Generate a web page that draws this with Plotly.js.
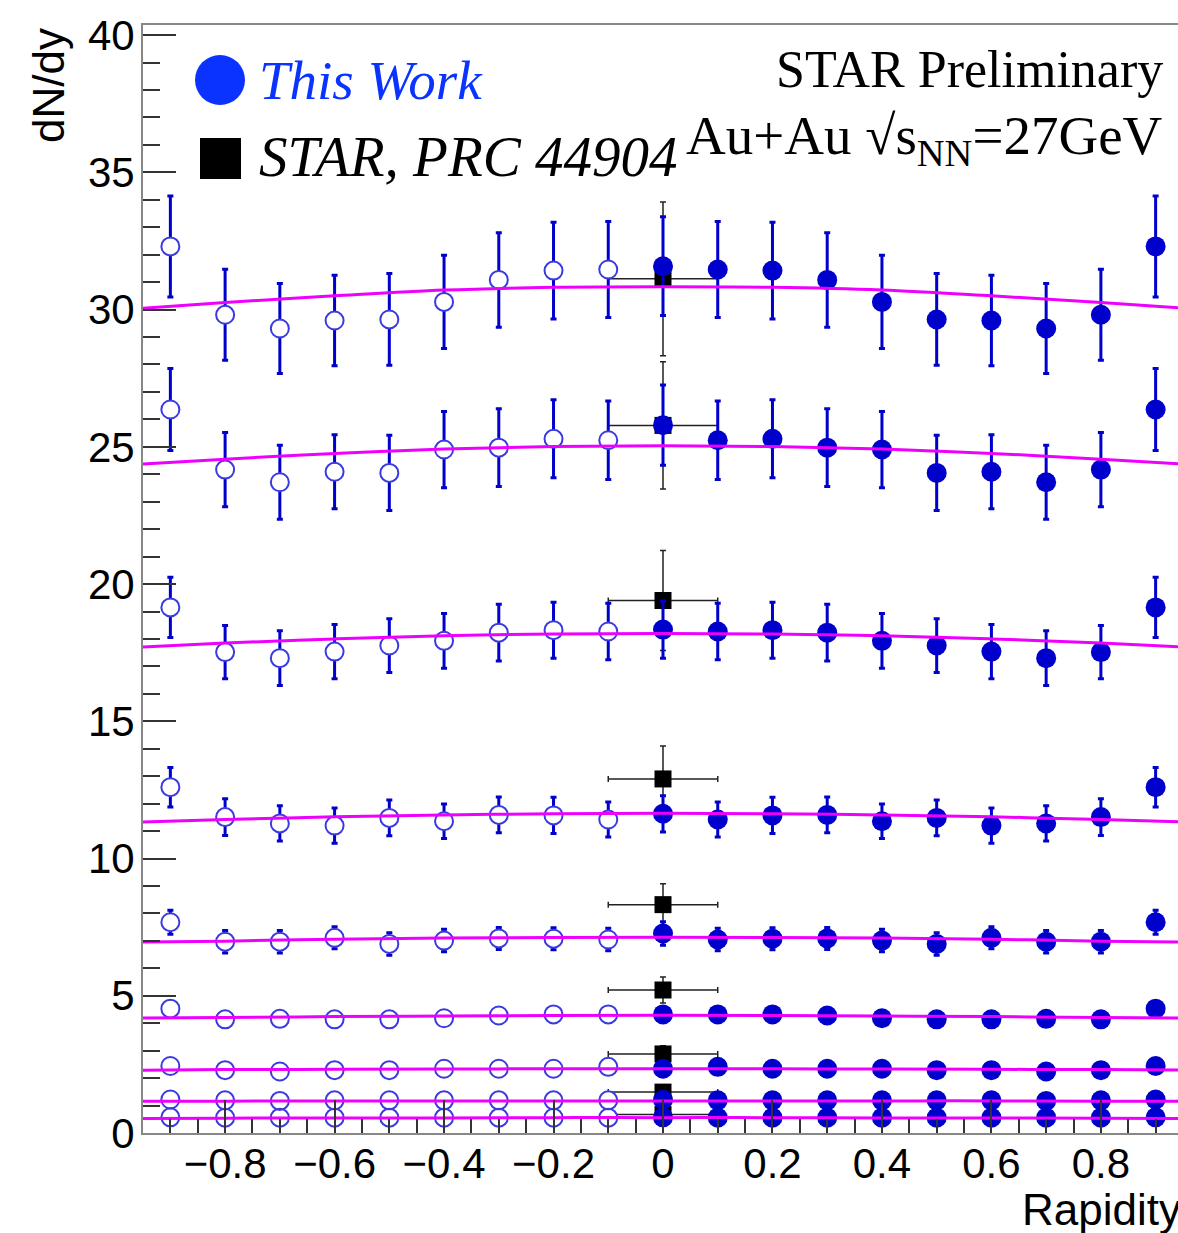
<!DOCTYPE html>
<html><head><meta charset="utf-8">
<script src="https://cdn.plot.ly/plotly-3.0.1.min.js"></script>
<style>html,body{margin:0;padding:0;overflow:hidden;background:#fff}</style>
</head><body><div id="chart"></div>
<script>
// ---------- data ----------
const rapidityPos = [0, 0.1, 0.2, 0.3, 0.4, 0.5, 0.6, 0.7, 0.8, 0.9];
const rapidityNeg = [-0.9, -0.8, -0.7, -0.6, -0.5, -0.4, -0.3, -0.2, -0.1];

const s1Pos    = [31.58, 31.46, 31.42, 31.08, 30.28, 29.64, 29.60, 29.31, 29.81, 32.30];
const s1PosErr = [1.80, 1.75, 1.76, 1.72, 1.70, 1.67, 1.65, 1.64, 1.66, 1.84];
const s1Neg    = [32.30, 29.81, 29.31, 29.60, 29.64, 30.28, 31.08, 31.42, 31.46];
const s1NegErr = [1.84, 1.66, 1.64, 1.65, 1.67, 1.70, 1.72, 1.76, 1.75];

const s2Pos    = [25.79, 25.24, 25.29, 24.97, 24.90, 24.05, 24.09, 23.71, 24.17, 26.36];
const s2PosErr = [1.46, 1.43, 1.42, 1.42, 1.39, 1.37, 1.35, 1.35, 1.35, 1.49];
const s2Neg    = [26.36, 24.17, 23.71, 24.09, 24.05, 24.90, 24.97, 25.29, 25.24];
const s2NegErr = [1.49, 1.35, 1.35, 1.35, 1.37, 1.39, 1.42, 1.42, 1.43];

const s3Pos    = [18.34, 18.27, 18.32, 18.23, 17.93, 17.76, 17.54, 17.30, 17.52, 19.15];
const s3PosErr = [1.04, 1.03, 1.02, 1.03, 1.00, 0.98, 0.99, 1.00, 0.97, 1.10];
const s3Neg    = [19.15, 17.52, 17.30, 17.54, 17.76, 17.93, 18.23, 18.32, 18.27];
const s3NegErr = [1.10, 0.97, 1.00, 0.99, 0.98, 1.00, 1.03, 1.02, 1.03];

const s4Pos    = [11.63, 11.42, 11.57, 11.59, 11.36, 11.48, 11.20, 11.28, 11.51, 12.60];
const s4PosErr = [0.66, 0.64, 0.66, 0.65, 0.63, 0.65, 0.64, 0.64, 0.67, 0.72];
const s4Neg    = [12.60, 11.51, 11.28, 11.20, 11.48, 11.36, 11.59, 11.57, 11.42];
const s4NegErr = [0.72, 0.67, 0.64, 0.64, 0.65, 0.63, 0.65, 0.66, 0.64];

const s5Pos    = [7.27, 7.05, 7.08, 7.09, 7.01, 6.89, 7.11, 6.97, 6.97, 7.68];
const s5PosErr = [0.43, 0.41, 0.40, 0.40, 0.41, 0.41, 0.40, 0.41, 0.41, 0.44];
const s5Neg    = [7.68, 6.97, 6.97, 7.11, 6.89, 7.01, 7.09, 7.08, 7.05];
const s5NegErr = [0.44, 0.41, 0.41, 0.40, 0.41, 0.41, 0.40, 0.40, 0.41];

const s6Pos    = [4.32, 4.32, 4.32, 4.28, 4.18, 4.14, 4.14, 4.16, 4.14, 4.53];
const s6PosErr = [0.22, 0.22, 0.22, 0.22, 0.22, 0.22, 0.22, 0.22, 0.22, 0.24];
const s6Neg    = [4.53, 4.14, 4.16, 4.14, 4.14, 4.18, 4.28, 4.32, 4.32];
const s6NegErr = [0.24, 0.22, 0.22, 0.22, 0.22, 0.22, 0.22, 0.22, 0.22];

const s7Pos    = [2.34, 2.41, 2.34, 2.34, 2.34, 2.29, 2.29, 2.24, 2.29, 2.44];
const s7PosErr = [0.12, 0.12, 0.12, 0.12, 0.12, 0.12, 0.12, 0.12, 0.12, 0.13];
const s7Neg    = [2.44, 2.29, 2.24, 2.29, 2.29, 2.34, 2.34, 2.34, 2.41];
const s7NegErr = [0.13, 0.12, 0.12, 0.12, 0.12, 0.12, 0.12, 0.12, 0.12];

const s8Pos    = [1.21, 1.19, 1.19, 1.19, 1.19, 1.19, 1.19, 1.17, 1.19, 1.22];
const s8PosErr = [0.08, 0.08, 0.08, 0.08, 0.08, 0.08, 0.08, 0.08, 0.08, 0.08];
const s8Neg    = [1.22, 1.19, 1.17, 1.19, 1.19, 1.19, 1.19, 1.19, 1.19];
const s8NegErr = [0.08, 0.08, 0.08, 0.08, 0.08, 0.08, 0.08, 0.08, 0.08];

const s9Pos    = [0.57, 0.56, 0.56, 0.56, 0.56, 0.56, 0.56, 0.56, 0.56, 0.57];
const s9PosErr = [0.05, 0.05, 0.05, 0.05, 0.05, 0.05, 0.05, 0.05, 0.05, 0.05];
const s9Neg    = [0.57, 0.56, 0.56, 0.56, 0.56, 0.56, 0.56, 0.56, 0.56];
const s9NegErr = [0.05, 0.05, 0.05, 0.05, 0.05, 0.05, 0.05, 0.05, 0.05];

// fit curves (magenta), read at these rapidities
const fitRapidity = [-0.95, -0.8, -0.6, -0.4, -0.2, 0, 0.2, 0.4, 0.6, 0.8, 0.95];
const fit1 = [30.05, 30.26, 30.50, 30.71, 30.81, 30.83, 30.81, 30.71, 30.50, 30.26, 30.05];
const fit2 = [24.37, 24.55, 24.76, 24.92, 25.01, 25.04, 25.01, 24.92, 24.76, 24.55, 24.37];
const fit3 = [17.71, 17.85, 18.00, 18.12, 18.18, 18.20, 18.18, 18.12, 18.00, 17.85, 17.71];
const fit4 = [11.33, 11.42, 11.52, 11.59, 11.63, 11.65, 11.63, 11.59, 11.52, 11.42, 11.33];
const fit5 = [6.96, 6.99, 7.06, 7.10, 7.12, 7.13, 7.12, 7.10, 7.06, 6.99, 6.96];
const fit6 = [4.19, 4.21, 4.24, 4.26, 4.28, 4.29, 4.28, 4.26, 4.24, 4.21, 4.19];
const fit7 = [2.29, 2.31, 2.32, 2.33, 2.34, 2.34, 2.34, 2.33, 2.32, 2.31, 2.29];
const fit8 = [1.16, 1.16, 1.17, 1.17, 1.17, 1.17, 1.17, 1.17, 1.17, 1.16, 1.16];
const fit9 = [0.53, 0.54, 0.55, 0.55, 0.56, 0.56, 0.56, 0.55, 0.55, 0.54, 0.53];

// STAR, PRC 44904 reference points
const starRapidity = [0, 0, 0, 0, 0, 0, 0, 0, 0];
const starRapidityErr = [0.1, 0.1, 0.1, 0.1, 0.1, 0.1, 0.1, 0.1, 0.1];
const starDNdy = [31.12, 25.78, 19.40, 12.90, 8.32, 5.21, 2.88, 1.49, 0.67];
const starDNdyErr = [2.80, 2.32, 1.82, 1.20, 0.76, 0.47, 0.30, 0.20, 0.12];

const xTickVals = [-0.8, -0.6, -0.4, -0.2, 0, 0.2, 0.4, 0.6, 0.8];
const yTickVals = [0, 5, 10, 15, 20, 25, 30, 35, 40];

// ---------- build ----------
const series = [
  {pos: s1Pos, posErr: s1PosErr, neg: s1Neg, negErr: s1NegErr, fit: fit1},
  {pos: s2Pos, posErr: s2PosErr, neg: s2Neg, negErr: s2NegErr, fit: fit2},
  {pos: s3Pos, posErr: s3PosErr, neg: s3Neg, negErr: s3NegErr, fit: fit3},
  {pos: s4Pos, posErr: s4PosErr, neg: s4Neg, negErr: s4NegErr, fit: fit4},
  {pos: s5Pos, posErr: s5PosErr, neg: s5Neg, negErr: s5NegErr, fit: fit5},
  {pos: s6Pos, posErr: s6PosErr, neg: s6Neg, negErr: s6NegErr, fit: fit6},
  {pos: s7Pos, posErr: s7PosErr, neg: s7Neg, negErr: s7NegErr, fit: fit7},
  {pos: s8Pos, posErr: s8PosErr, neg: s8Neg, negErr: s8NegErr, fit: fit8},
  {pos: s9Pos, posErr: s9PosErr, neg: s9Neg, negErr: s9NegErr, fit: fit9}
];

const BLUE = '#0000cc';
const traces = [];

traces.push({
  type: 'scatter', mode: 'markers', x: starRapidity, y: starDNdy,
  marker: {symbol: 'square', size: 17, color: '#000'},
  error_x: {type: 'data', array: starRapidityErr, color: '#222', thickness: 1.5, width: 3},
  error_y: {type: 'data', array: starDNdyErr, color: '#222', thickness: 1.5, width: 3},
  showlegend: false, hoverinfo: 'skip'
});

// open (mirrored) points: error bars + white interior first, outlines afterwards
series.forEach(s => {
  traces.push({
    type: 'scatter', mode: 'markers', x: rapidityNeg, y: s.neg,
    marker: {symbol: 'circle', size: 17, color: '#fff', line: {width: 0}},
    error_y: {type: 'data', array: s.negErr, color: BLUE, thickness: 3, width: 3},
    showlegend: false, hoverinfo: 'skip'
  });
});
series.forEach(s => {
  traces.push({
    type: 'scatter', mode: 'markers', x: rapidityNeg, y: s.neg,
    marker: {symbol: 'circle-open', size: 18, color: '#3a3ae0', line: {width: 2}},
    showlegend: false, hoverinfo: 'skip'
  });
});
series.forEach(s => {
  traces.push({
    type: 'scatter', mode: 'markers', x: rapidityPos, y: s.pos,
    marker: {symbol: 'circle', size: 20, color: BLUE},
    error_y: {type: 'data', array: s.posErr, color: BLUE, thickness: 3, width: 3},
    showlegend: false, hoverinfo: 'skip'
  });
});
series.forEach(s => {
  traces.push({
    type: 'scatter', mode: 'lines', x: fitRapidity, y: s.fit,
    line: {color: '#ee00ff', width: 3, shape: 'spline'},
    showlegend: false, hoverinfo: 'skip'
  });
});

// pixel -> paper helpers (layout only)
const W = 1190, H = 1233, ML = 143, MT = 25, PW = 1040, PH = 1108.5;
const MB = H - MT - PH;
const px = x => (x - ML) / PW;
const py = y => (MT + PH - y) / PH;

const layout = {
  width: W, height: H,
  margin: {l: ML, r: W - ML - PW, t: MT, b: MB, pad: 0},
  paper_bgcolor: '#fff', plot_bgcolor: '#fff',
  showlegend: false,
  font: {family: 'Liberation Sans, Arial, sans-serif', color: '#000'},
  xaxis: {
    range: [-0.95, 0.95], tickvals: xTickVals, ticks: 'inside', ticklen: 33,
    tickwidth: 2, tickcolor: '#333', showgrid: false, zeroline: false,
    showline: true, linecolor: '#888', linewidth: 2, mirror: true,
    tickfont: {size: 42, family: 'Liberation Sans, Arial, sans-serif', color: '#000'},
    ticklabelstandoff: -7,
    minor: {dtick: 0.05, tick0: 0, ticks: 'inside', ticklen: 14, tickwidth: 2, tickcolor: '#333', showgrid: false}
  },
  yaxis: {
    range: [0, PH / 27.46], tickvals: yTickVals, ticks: 'inside', ticklen: 33,
    tickwidth: 2, tickcolor: '#333', showgrid: false, zeroline: false,
    showline: true, linecolor: '#888', linewidth: 2, mirror: true,
    tickfont: {size: 42, family: 'Liberation Sans, Arial, sans-serif', color: '#000'},
    ticklabelstandoff: -2,
    minor: {dtick: 1, tick0: 0, ticks: 'inside', ticklen: 17, tickwidth: 2, tickcolor: '#333', showgrid: false}
  },
  shapes: [
    {type: 'circle', xref: 'paper', yref: 'paper', x0: px(195), x1: px(245), y0: py(105), y1: py(55),
     fillcolor: '#0a33ff', line: {width: 0}},
    {type: 'rect', xref: 'paper', yref: 'paper', x0: px(200), x1: px(241), y0: py(179), y1: py(138),
     fillcolor: '#000', line: {width: 0}}
  ],
  annotations: [
    {xref: 'paper', yref: 'paper', x: px(257), y: py(81), xanchor: 'left', yanchor: 'middle',
     text: '<i>This Work</i>', showarrow: false,
     font: {family: 'Liberation Serif, serif', size: 55, color: '#0a33ff'}},
    {xref: 'paper', yref: 'paper', x: px(257), y: py(157), xanchor: 'left', yanchor: 'middle',
     text: '<i>STAR, PRC 44904</i>', showarrow: false,
     font: {family: 'Liberation Serif, serif', size: 57, color: '#000'}},
    {xref: 'paper', yref: 'paper', x: px(1165), y: py(70), xanchor: 'right', yanchor: 'middle',
     text: 'STAR Preliminary', showarrow: false,
     font: {family: 'Liberation Serif, serif', size: 52, color: '#000'}},
    {xref: 'paper', yref: 'paper', x: px(1165), y: py(140), xanchor: 'right', yanchor: 'middle',
     text: 'Au+Au \u221As<sub>NN</sub>=27GeV', showarrow: false,
     font: {family: 'Liberation Serif, serif', size: 55, color: '#000'}},
    {xref: 'paper', yref: 'paper', x: px(49), y: py(86), xanchor: 'center', yanchor: 'middle',
     text: 'dN/dy', textangle: -90, showarrow: false,
     font: {family: 'Liberation Sans, Arial, sans-serif', size: 44, color: '#000'}},
    {xref: 'paper', yref: 'paper', x: 1, y: py(1210), xanchor: 'right', yanchor: 'middle',
     text: 'Rapidity', showarrow: false,
     font: {family: 'Liberation Sans, Arial, sans-serif', size: 44, color: '#000'}}
  ]
};

Plotly.newPlot('chart', traces, layout, {displayModeBar: false, staticPlot: true});
</script>
</body></html>
